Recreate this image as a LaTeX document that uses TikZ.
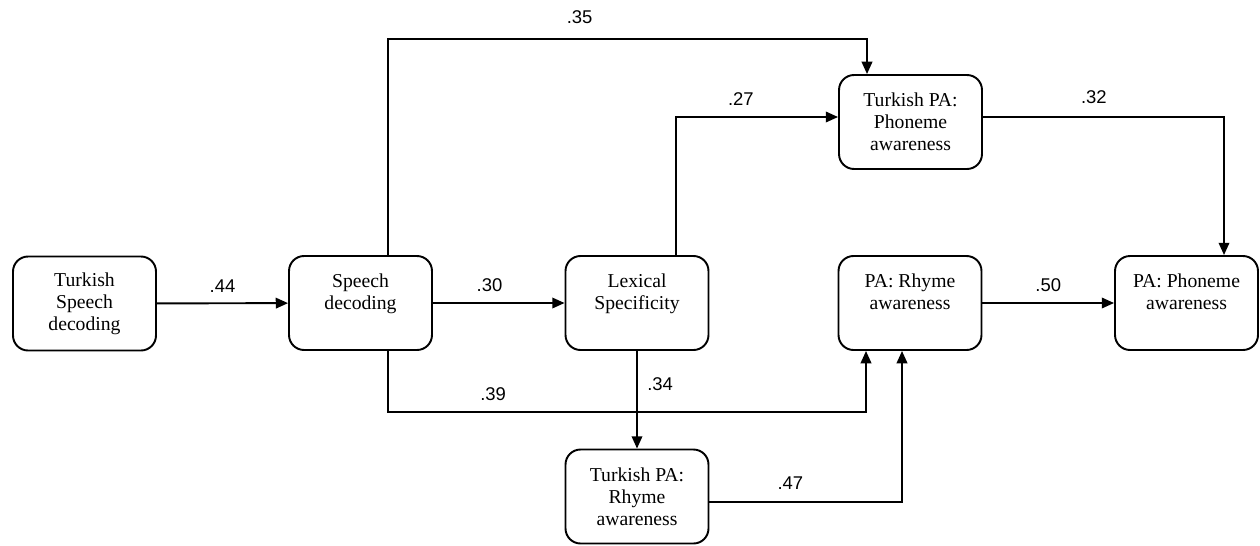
\documentclass[tikz,border=0pt]{standalone}
\usepackage{fontspec}
\setmainfont{Liberation Serif}
\setsansfont{Liberation Sans}
\usetikzlibrary{arrows.meta}

\begin{document}
\begin{tikzpicture}[x=0.02cm,y=-0.02cm,
    box/.style={draw,line width=1.1pt,rounded corners=0.3cm,minimum width=2.86cm,minimum height=1.88cm,inner sep=0pt,align=center,font=\fontsize{11.2}{12.5}\selectfont},
    coef/.style={font=\sffamily\fontsize{10.5}{12}\selectfont},
    arr/.style={line width=1.1pt,-{Triangle[length=7pt,width=6pt]}}]
            \useasboundingbox (0,0) rectangle (1260,545);
            \node[box](1) at (84.5, 303.5) {Turkish\\Speech\\decoding};
            \node[box](2) at (360.5, 303) {Speech\\decoding\\~};
            \node[box](3) at (637, 303) {Lexical\\Specificity\\~};
            \node[box](4) at (910.5, 122) {Turkish PA:\\Phoneme\\awareness};
            \node[box](5) at (910, 303) {PA: Rhyme\\awareness\\~};
            \node[box](6) at (1186.5, 303) {PA: Phoneme\\awareness\\~};
            \node[box](7) at (637, 496.5) {Turkish PA:\\Rhyme\\awareness};
            % bends of the connectors
            \coordinate(k1) at (388, 39);
            \coordinate(k2) at (867, 39);
            \coordinate(k3) at (676, 117);
            \coordinate(k4) at (1224, 117);
            \coordinate(k5) at (388, 412);
            \coordinate(k6) at (866, 412);
            \coordinate(k7) at (902, 502);
            \draw[arr] (1) -- node[coef,above=2.4pt]{.44} (2);
            \draw[arr] (2) -- node[coef,above=2.4pt,pos=0.43]{.30} (3);
            \draw[arr] (5) -- node[coef,above=2.4pt]{.50} (6);
            \draw[arr] (3) -- node[coef,right=2pt,pos=0.34]{.34} (7);
            \draw[arr] (2.north -| k1) -- (k1) -- node[coef,above=4.6pt,pos=0.4]{.35} (k2) -- (4.north -| k2);
            \draw[arr] (3.north -| k3) |- node[coef,above=2.4pt,pos=0.7]{.27} (4.west |- k3);
            \draw[arr] (4.east |- k4) -| node[coef,above=3.5pt,pos=0.23]{.32} (6.north -| k4);
            \draw[arr] (2.south -| k5) -- (k5) -- node[coef,above=2.4pt,pos=0.22]{.39} (k6) -- (5.south -| k6);
            \draw[arr] (7.east |- k7) -- node[coef,above=3.5pt,pos=0.42]{.47} (k7) -- (5.south -| k7);
\end{tikzpicture}
\end{document}
